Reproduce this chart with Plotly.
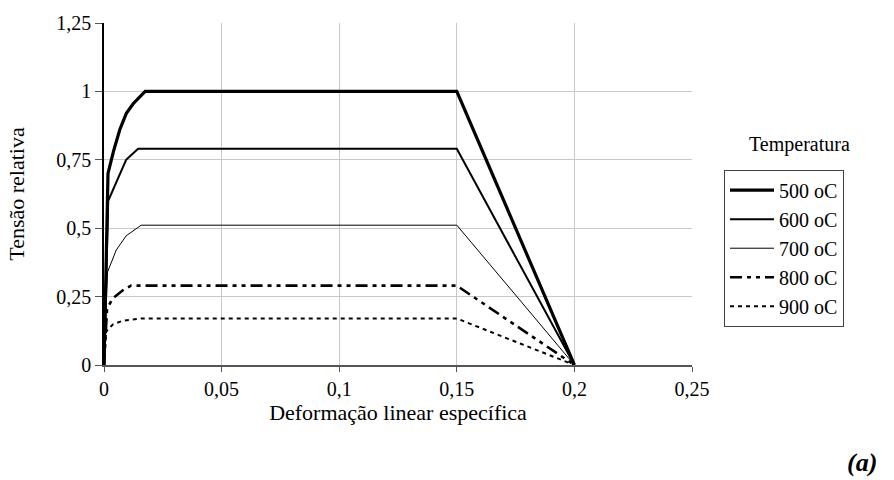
import plotly.graph_objects as go

# ---- data ----
labels = ["500 oC", "600 oC", "700 oC", "800 oC", "900 oC"]
x500 = [0, 0.0017, 0.004, 0.0067, 0.0095, 0.0124, 0.0175, 0.15, 0.2]
y500 = [0, 0.70, 0.78, 0.86, 0.92, 0.955, 1.0, 1.0, 0]
x600 = [0, 0.0018, 0.0094, 0.0145, 0.15, 0.2]
y600 = [0, 0.60, 0.75, 0.79, 0.79, 0]
x700 = [0, 0.0015, 0.0052, 0.0094, 0.0158, 0.15, 0.2]
y700 = [0, 0.34, 0.42, 0.472, 0.511, 0.511, 0]
x800 = [0, 0.0013, 0.0037, 0.008, 0.0115, 0.15, 0.2]
y800 = [0, 0.206, 0.243, 0.273, 0.29, 0.29, 0]
x900 = [0, 0.0009, 0.0037, 0.008, 0.0157, 0.15, 0.2]
y900 = [0, 0.122, 0.148, 0.162, 0.17, 0.17, 0]

xticks = [0, 0.05, 0.1, 0.15, 0.2, 0.25]
xticklabels = ["0", "0,05", "0,1", "0,15", "0,2", "0,25"]
yticks = [0, 0.25, 0.5, 0.75, 1, 1.25]
yticklabels = ["0", "0,25", "0,5", "0,75", "1", "1,25"]

series = [(x500, y500), (x600, y600), (x700, y700), (x800, y800), (x900, y900)]
styles = [
    dict(color="black", width=3.2, dash="solid"),
    dict(color="black", width=2.0, dash="solid"),
    dict(color="black", width=1.0, dash="solid"),
    dict(color="black", width=2.6, dash="12px,5px,4px,5px,4px,5px"),
    dict(color="black", width=2.0, dash="4px,4px"),
]

FONT = "Liberation Serif"
FS = 20

fig = go.Figure()
for (xs, ys), name, st in zip(series, labels, styles):
    fig.add_trace(go.Scatter(x=xs, y=ys, mode="lines", name=name, line=st))

L, R, T, B = 104, 202, 20, 115
pw, ph = 894 - L - R, 480 - T - B

fig.update_layout(
    width=894, height=480,
    margin=dict(l=L, r=R, t=T, b=B),
    paper_bgcolor="white", plot_bgcolor="white",
    font=dict(family=FONT, size=FS, color="black"),
    showlegend=True,
    legend=dict(
        x=(724 - L) / pw, y=(365 - 168) / ph, xanchor="left", yanchor="top",
        bordercolor="#404040", borderwidth=1, bgcolor="white",
        font=dict(family=FONT, size=20, color="black"), tracegroupgap=0,
        itemwidth=44,
    ),
    annotations=[
        dict(text="Temperatura", x=(799 - L) / pw, y=(365 - 143) / ph,
             xref="paper", yref="paper", showarrow=False,
             xanchor="center", yanchor="middle",
             font=dict(family=FONT, size=FS, color="black")),
        dict(text="<b><i>(a)</i></b>", x=(862 - L) / pw, y=(365 - 463) / ph,
             xref="paper", yref="paper", showarrow=False,
             xanchor="center", yanchor="middle",
             font=dict(family=FONT, size=26, color="black")),
    ],
)

fig.update_xaxes(
    range=[0, 0.25], tickvals=xticks, ticktext=xticklabels,
    tickfont=dict(family=FONT, size=FS, color="black"),
    showgrid=True, gridcolor="#c8c8c8", gridwidth=1,
    showline=True, linecolor="#555555", linewidth=2,
    ticks="outside", ticklen=5, tickcolor="#555555",
    zeroline=False,
    title=dict(text="Deformação linear específica",
               font=dict(family=FONT, size=22, color="black"), standoff=6),
)
fig.update_yaxes(
    range=[0, 1.25], tickvals=yticks, ticktext=yticklabels,
    tickfont=dict(family=FONT, size=FS, color="black"),
    showgrid=True, gridcolor="#c8c8c8", gridwidth=1,
    showline=True, linecolor="black", linewidth=1.5,
    ticks="outside", ticklen=7, tickcolor="#555555",
    zeroline=False,
    title=dict(text="Tensão relativa",
               font=dict(family=FONT, size=22, color="black"), standoff=26),
)

fig.write_html("out.html")
